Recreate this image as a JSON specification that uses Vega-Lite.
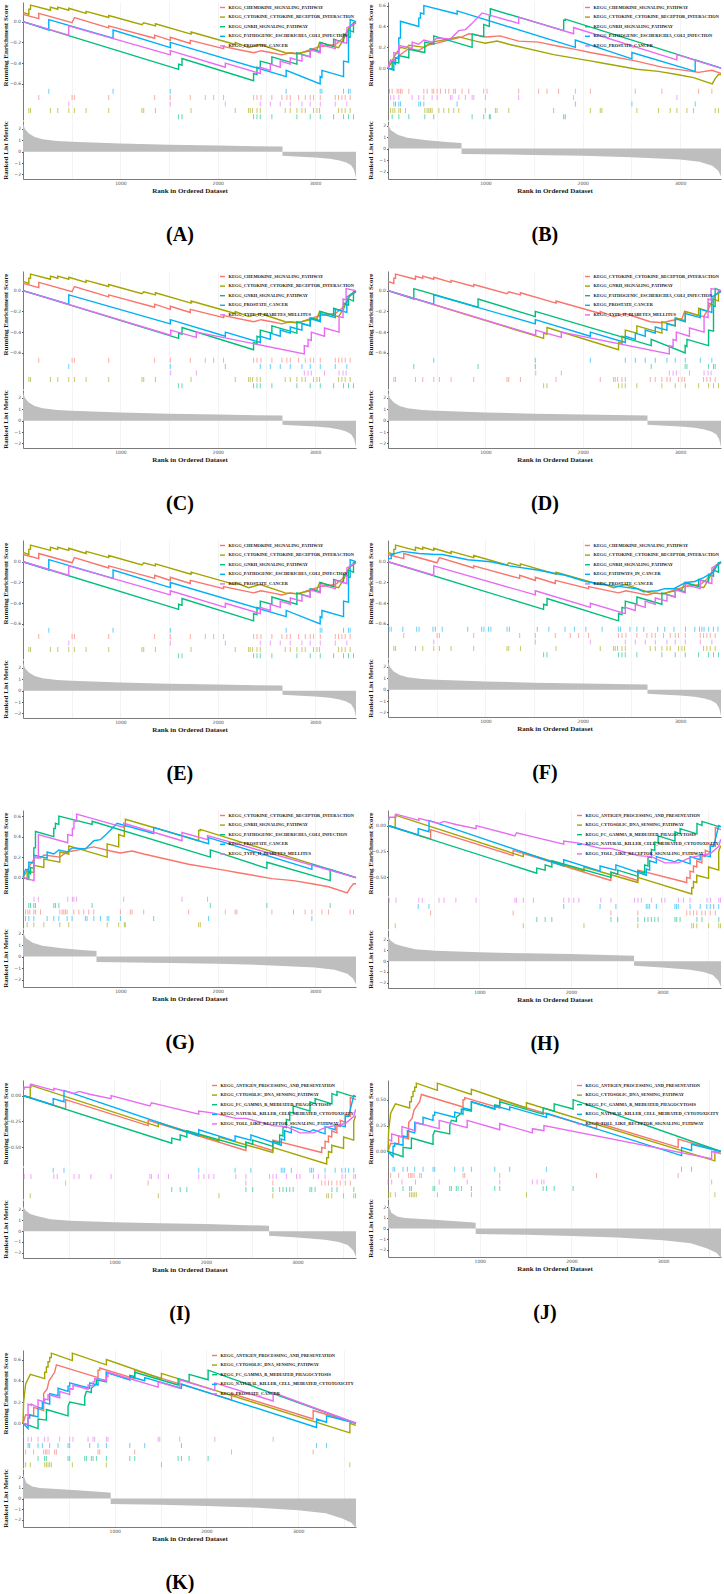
{
"$schema":"https://vega.github.io/schema/vega-lite/v6.json",
"padding":{"left":0,"top":2,"right":0,"bottom":0},
"columns":2,
"spacing":{"row":26,"column":6},
"resolve":{"scale":{"color":"independent"},"legend":{"color":"independent"}},
"config":{
 "view":{"stroke":null},
 "range":{"category":["#F8766D","#A3A500","#00BF7D","#00B0F6","#E76BF3"]},
 "axis":{"grid":false,"labelFont":"DejaVu Sans","labelFontSize":4.5,"labelColor":"#4d4d4d","titleFont":"Liberation Serif","titleFontSize":7,"titleFontWeight":"bold","titleColor":"#1a1a1a","domainColor":"#595959","domainWidth":0.8,"tickColor":"#595959","tickSize":1.5,"labelPadding":1,"gridColor":"#ebebeb","gridWidth":0.6},
 "axisY":{"minExtent":13,"maxExtent":13,"titlePadding":2},
 "axisX":{"titlePadding":1.5,"labelPadding":1.5},
 "legend":{"orient":"top-right","offset":2,"padding":0,"labelFont":"Liberation Serif","labelFontWeight":"bold","labelFontSize":4.4,"labelColor":"#1a1a1a","labelLimit":400,"symbolType":"stroke","symbolSize":25,"symbolStrokeWidth":1.5,"rowPadding":2.6,"labelOffset":2.5},
 "title":{"font":"Liberation Serif","fontSize":20,"fontWeight":"bold","orient":"bottom","offset":31,"color":"#000","anchor":"middle"},
 "line":{"strokeWidth":1.4},
 "tick":{"thickness":1,"opacity":0.6},
 "area":{"color":"#bebebe"}
},
"datasets":{
"nm":[
{"s":"1a","n":"KEGG_CHEMOKINE_SIGNALING_PATHWAY"},{"s":"1b","n":"KEGG_CYTOKINE_CYTOKINE_RECEPTOR_INTERACTION"},{"s":"1c","n":"KEGG_GNRH_SIGNALING_PATHWAY"},{"s":"1d","n":"KEGG_PATHOGENIC_ESCHERICHIA_COLI_INFECTION"},{"s":"1e","n":"KEGG_PROSTATE_CANCER"},{"s":"1f","n":"KEGG_TYPE_II_DIABETES_MELLITUS"},{"s":"1g","n":"KEGG_PATHWAYS_IN_CANCER"},
{"s":"2a","n":"KEGG_CHEMOKINE_SIGNALING_PATHWAY"},{"s":"2b","n":"KEGG_CYTOKINE_CYTOKINE_RECEPTOR_INTERACTION"},{"s":"2c","n":"KEGG_GNRH_SIGNALING_PATHWAY"},{"s":"2d","n":"KEGG_PATHOGENIC_ESCHERICHIA_COLI_INFECTION"},{"s":"2e","n":"KEGG_PROSTATE_CANCER"},{"s":"2f","n":"KEGG_TYPE_II_DIABETES_MELLITUS"},
{"s":"3a","n":"KEGG_ANTIGEN_PROCESSING_AND_PRESENTATION"},{"s":"3b","n":"KEGG_CYTOSOLIC_DNA_SENSING_PATHWAY"},{"s":"3c","n":"KEGG_FC_GAMMA_R_MEDIATED_PHAGOCYTOSIS"},{"s":"3d","n":"KEGG_NATURAL_KILLER_CELL_MEDIATED_CYTOTOXICITY"},{"s":"3e","n":"KEGG_TOLL_LIKE_RECEPTOR_SIGNALING_PATHWAY"},
{"s":"4a","n":"KEGG_ANTIGEN_PROCESSING_AND_PRESENTATION"},{"s":"4b","n":"KEGG_CYTOSOLIC_DNA_SENSING_PATHWAY"},{"s":"4c","n":"KEGG_FC_GAMMA_R_MEDIATED_PHAGOCYTOSIS"},{"s":"4d","n":"KEGG_NATURAL_KILLER_CELL_MEDIATED_CYTOTOXICITY"},{"s":"4e","n":"KEGG_TOLL_LIKE_RECEPTOR_SIGNALING_PATHWAY"},{"s":"4f","n":"KEGG_PROSTATE_CANCER"}
],
"es":[
{"s":"1a","x":0,"y":0.07},{"s":"1a","x":162,"y":0.03},{"s":"1a","x":162,"y":0.08},{"s":"1a","x":504,"y":-0.01},{"s":"1a","x":528,"y":0.04},{"s":"1a","x":880,"y":-0.06},{"s":"1a","x":880,"y":-0.04},{"s":"1a","x":1352,"y":-0.16},{"s":"1a","x":1352,"y":-0.13},{"s":"1a","x":1513,"y":-0.18},{"s":"1a","x":1513,"y":-0.15},{"s":"1a","x":1718,"y":-0.21},{"s":"1a","x":1718,"y":-0.18},{"s":"1a","x":2060,"y":-0.26},{"s":"1a","x":2060,"y":-0.24},{"s":"1a","x":2368,"y":-0.3},{"s":"1a","x":2444,"y":-0.28},{"s":"1a","x":2556,"y":-0.3},{"s":"1a","x":2659,"y":-0.32},{"s":"1a","x":2745,"y":-0.3},{"s":"1a","x":2830,"y":-0.31},{"s":"1a","x":2950,"y":-0.27},{"s":"1a","x":3053,"y":-0.24},{"s":"1a","x":3207,"y":-0.22},{"s":"1a","x":3275,"y":-0.17},{"s":"1a","x":3360,"y":-0.05},{"s":"1a","x":3420,"y":-0.01},
{"s":"1b","x":0,"y":0.09},{"s":"1b","x":60,"y":0.07},{"s":"1b","x":60,"y":0.12},{"s":"1b","x":77,"y":0.12},{"s":"1b","x":77,"y":0.16},{"s":"1b","x":282,"y":0.11},{"s":"1b","x":282,"y":0.14},{"s":"1b","x":357,"y":0.12},{"s":"1b","x":357,"y":0.14},{"s":"1b","x":470,"y":0.11},{"s":"1b","x":470,"y":0.13},{"s":"1b","x":648,"y":0.08},{"s":"1b","x":648,"y":0.1},{"s":"1b","x":880,"y":0.04},{"s":"1b","x":880,"y":0.06},{"s":"1b","x":1222,"y":-0.03},{"s":"1b","x":1240,"y":-0.01},{"s":"1b","x":1360,"y":-0.04},{"s":"1b","x":1360,"y":-0.02},{"s":"1b","x":1726,"y":-0.12},{"s":"1b","x":1726,"y":-0.1},{"s":"1b","x":2180,"y":-0.22},{"s":"1b","x":2180,"y":-0.2},{"s":"1b","x":2317,"y":-0.25},{"s":"1b","x":2437,"y":-0.22},{"s":"1b","x":2693,"y":-0.3},{"s":"1b","x":2813,"y":-0.31},{"s":"1b","x":2899,"y":-0.29},{"s":"1b","x":3019,"y":-0.27},{"s":"1b","x":3046,"y":-0.2},{"s":"1b","x":3241,"y":-0.25},{"s":"1b","x":3275,"y":-0.2},{"s":"1b","x":3309,"y":-0.14},{"s":"1b","x":3360,"y":-0.04},{"s":"1b","x":3420,"y":0},
{"s":"1c","x":0,"y":0},{"s":"1c","x":1598,"y":-0.46},{"s":"1c","x":1598,"y":-0.41},{"s":"1c","x":1633,"y":-0.42},{"s":"1c","x":1633,"y":-0.355},{"s":"1c","x":2368,"y":-0.57},{"s":"1c","x":2368,"y":-0.5},{"s":"1c","x":2403,"y":-0.51},{"s":"1c","x":2403,"y":-0.44},{"s":"1c","x":2437,"y":-0.45},{"s":"1c","x":2437,"y":-0.38},{"s":"1c","x":2556,"y":-0.41},{"s":"1c","x":2556,"y":-0.34},{"s":"1c","x":2813,"y":-0.41},{"s":"1c","x":2813,"y":-0.3},{"s":"1c","x":2950,"y":-0.34},{"s":"1c","x":2950,"y":-0.26},{"s":"1c","x":3053,"y":-0.29},{"s":"1c","x":3053,"y":-0.2},{"s":"1c","x":3190,"y":-0.24},{"s":"1c","x":3190,"y":-0.17},{"s":"1c","x":3292,"y":-0.2},{"s":"1c","x":3292,"y":-0.12},{"s":"1c","x":3343,"y":-0.14},{"s":"1c","x":3343,"y":-0.08},{"s":"1c","x":3394,"y":-0.1},{"s":"1c","x":3394,"y":-0.01},{"s":"1c","x":3420,"y":-0.01},
{"s":"1d","x":0,"y":0},{"s":"1d","x":265,"y":-0.08},{"s":"1d","x":265,"y":0.02},{"s":"1d","x":925,"y":-0.16},{"s":"1d","x":925,"y":-0.08},{"s":"1d","x":1513,"y":-0.25},{"s":"1d","x":1513,"y":-0.2},{"s":"1d","x":2703,"y":-0.53},{"s":"1d","x":2703,"y":-0.47},{"s":"1d","x":3052,"y":-0.6},{"s":"1d","x":3052,"y":-0.53},{"s":"1d","x":3070,"y":-0.54},{"s":"1d","x":3070,"y":-0.47},{"s":"1d","x":3292,"y":-0.53},{"s":"1d","x":3292,"y":-0.38},{"s":"1d","x":3343,"y":-0.39},{"s":"1d","x":3343,"y":-0.15},{"s":"1d","x":3360,"y":-0.15},{"s":"1d","x":3360,"y":0.02},{"s":"1d","x":3420,"y":0},
{"s":"1e","x":0,"y":0},{"s":"1e","x":470,"y":-0.13},{"s":"1e","x":470,"y":-0.04},{"s":"1e","x":1513,"y":-0.32},{"s":"1e","x":1513,"y":-0.28},{"s":"1e","x":2078,"y":-0.44},{"s":"1e","x":2078,"y":-0.4},{"s":"1e","x":2437,"y":-0.5},{"s":"1e","x":2437,"y":-0.44},{"s":"1e","x":2540,"y":-0.47},{"s":"1e","x":2540,"y":-0.41},{"s":"1e","x":2642,"y":-0.44},{"s":"1e","x":2642,"y":-0.38},{"s":"1e","x":2745,"y":-0.41},{"s":"1e","x":2745,"y":-0.35},{"s":"1e","x":2865,"y":-0.38},{"s":"1e","x":2865,"y":-0.32},{"s":"1e","x":2950,"y":-0.34},{"s":"1e","x":2950,"y":-0.27},{"s":"1e","x":3053,"y":-0.3},{"s":"1e","x":3053,"y":-0.22},{"s":"1e","x":3207,"y":-0.26},{"s":"1e","x":3207,"y":-0.18},{"s":"1e","x":3326,"y":-0.21},{"s":"1e","x":3326,"y":-0.06},{"s":"1e","x":3420,"y":-0.01},
{"s":"1f","x":0,"y":0},{"s":"1f","x":1517,"y":-0.43},{"s":"1f","x":1517,"y":-0.38},{"s":"1f","x":1780,"y":-0.45},{"s":"1f","x":1780,"y":-0.4},{"s":"1f","x":2889,"y":-0.61},{"s":"1f","x":2889,"y":-0.53},{"s":"1f","x":2928,"y":-0.54},{"s":"1f","x":2928,"y":-0.47},{"s":"1f","x":2961,"y":-0.48},{"s":"1f","x":2961,"y":-0.4},{"s":"1f","x":3096,"y":-0.44},{"s":"1f","x":3096,"y":-0.36},{"s":"1f","x":3246,"y":-0.4},{"s":"1f","x":3246,"y":-0.25},{"s":"1f","x":3287,"y":-0.26},{"s":"1f","x":3287,"y":-0.08},{"s":"1f","x":3318,"y":-0.09},{"s":"1f","x":3318,"y":0.02},{"s":"1f","x":3420,"y":0},
{"s":"1g","x":0,"y":0.03},{"s":"1g","x":33,"y":0.03},{"s":"1g","x":33,"y":0.07},{"s":"1g","x":152,"y":0.1},{"s":"1g","x":319,"y":0.08},{"s":"1g","x":486,"y":0.07},{"s":"1g","x":557,"y":0.07},{"s":"1g","x":819,"y":0.02},{"s":"1g","x":1057,"y":0},{"s":"1g","x":1247,"y":-0.04},{"s":"1g","x":1533,"y":-0.08},{"s":"1g","x":1818,"y":-0.13},{"s":"1g","x":2032,"y":-0.19},{"s":"1g","x":2199,"y":-0.22},{"s":"1g","x":2389,"y":-0.24},{"s":"1g","x":2556,"y":-0.26},{"s":"1g","x":2627,"y":-0.29},{"s":"1g","x":2770,"y":-0.28},{"s":"1g","x":2842,"y":-0.26},{"s":"1g","x":2937,"y":-0.26},{"s":"1g","x":3056,"y":-0.2},{"s":"1g","x":3151,"y":-0.19},{"s":"1g","x":3246,"y":-0.15},{"s":"1g","x":3342,"y":-0.1},{"s":"1g","x":3389,"y":-0.02},{"s":"1g","x":3420,"y":0},
{"s":"2a","x":0,"y":0},{"s":"2a","x":15,"y":0.03},{"s":"2a","x":43,"y":0.06},{"s":"2a","x":111,"y":0.12},{"s":"2a","x":214,"y":0.19},{"s":"2a","x":316,"y":0.17},{"s":"2a","x":402,"y":0.22},{"s":"2a","x":504,"y":0.24},{"s":"2a","x":624,"y":0.27},{"s":"2a","x":761,"y":0.3},{"s":"2a","x":830,"y":0.33},{"s":"2a","x":1017,"y":0.3},{"s":"2a","x":1150,"y":0.31},{"s":"2a","x":1342,"y":0.26},{"s":"2a","x":1547,"y":0.25},{"s":"2a","x":1752,"y":0.21},{"s":"2a","x":1924,"y":0.18},{"s":"2a","x":2078,"y":0.15},{"s":"2a","x":2540,"y":0.07},{"s":"2a","x":2813,"y":0.01},{"s":"2a","x":3190,"y":-0.04},{"s":"2a","x":3326,"y":-0.02},{"s":"2a","x":3420,"y":-0.05},
{"s":"2b","x":0,"y":0},{"s":"2b","x":26,"y":0.04},{"s":"2b","x":70,"y":0.12},{"s":"2b","x":128,"y":0.2},{"s":"2b","x":180,"y":0.19},{"s":"2b","x":216,"y":0.22},{"s":"2b","x":378,"y":0.2},{"s":"2b","x":453,"y":0.25},{"s":"2b","x":624,"y":0.28},{"s":"2b","x":727,"y":0.3},{"s":"2b","x":900,"y":0.26},{"s":"2b","x":1000,"y":0.24},{"s":"2b","x":1120,"y":0.26},{"s":"2b","x":1240,"y":0.23},{"s":"2b","x":1701,"y":0.13},{"s":"2b","x":2078,"y":0.07},{"s":"2b","x":2197,"y":0.05},{"s":"2b","x":2556,"y":-0.01},{"s":"2b","x":2778,"y":-0.03},{"s":"2b","x":2967,"y":-0.06},{"s":"2b","x":3138,"y":-0.09},{"s":"2b","x":3330,"y":-0.15},{"s":"2b","x":3360,"y":-0.1},{"s":"2b","x":3394,"y":-0.06},{"s":"2b","x":3420,"y":-0.06},
{"s":"2c","x":0,"y":0},{"s":"2c","x":43,"y":-0.01},{"s":"2c","x":43,"y":0.06},{"s":"2c","x":111,"y":0.05},{"s":"2c","x":111,"y":0.12},{"s":"2c","x":214,"y":0.1},{"s":"2c","x":214,"y":0.18},{"s":"2c","x":378,"y":0.15},{"s":"2c","x":378,"y":0.25},{"s":"2c","x":470,"y":0.23},{"s":"2c","x":470,"y":0.31},{"s":"2c","x":864,"y":0.2},{"s":"2c","x":864,"y":0.33},{"s":"2c","x":983,"y":0.3},{"s":"2c","x":983,"y":0.42},{"s":"2c","x":1041,"y":0.4},{"s":"2c","x":1041,"y":0.5},{"s":"2c","x":1051,"y":0.5},{"s":"2c","x":1051,"y":0.57},{"s":"2c","x":1804,"y":0.36},{"s":"2c","x":1804,"y":0.46},{"s":"2c","x":1821,"y":0.46},{"s":"2c","x":1821,"y":0.47},{"s":"2c","x":3420,"y":0},
{"s":"2d","x":0,"y":0},{"s":"2d","x":60,"y":-0.02},{"s":"2d","x":60,"y":0.06},{"s":"2d","x":77,"y":0.04},{"s":"2d","x":77,"y":0.1},{"s":"2d","x":111,"y":0.09},{"s":"2d","x":111,"y":0.29},{"s":"2d","x":128,"y":0.29},{"s":"2d","x":128,"y":0.45},{"s":"2d","x":316,"y":0.4},{"s":"2d","x":316,"y":0.48},{"s":"2d","x":333,"y":0.48},{"s":"2d","x":333,"y":0.53},{"s":"2d","x":368,"y":0.52},{"s":"2d","x":368,"y":0.6},{"s":"2d","x":710,"y":0.52},{"s":"2d","x":710,"y":0.55},{"s":"2d","x":1924,"y":0.2},{"s":"2d","x":1924,"y":0.27},{"s":"2d","x":2505,"y":0.09},{"s":"2d","x":2505,"y":0.15},{"s":"2d","x":3155,"y":-0.03},{"s":"2d","x":3155,"y":0.08},{"s":"2d","x":3420,"y":0},
{"s":"2e","x":0,"y":0},{"s":"2e","x":26,"y":0.08},{"s":"2e","x":60,"y":0.07},{"s":"2e","x":60,"y":0.15},{"s":"2e","x":111,"y":0.14},{"s":"2e","x":111,"y":0.22},{"s":"2e","x":248,"y":0.19},{"s":"2e","x":248,"y":0.25},{"s":"2e","x":316,"y":0.23},{"s":"2e","x":368,"y":0.27},{"s":"2e","x":453,"y":0.25},{"s":"2e","x":504,"y":0.29},{"s":"2e","x":641,"y":0.28},{"s":"2e","x":727,"y":0.36},{"s":"2e","x":795,"y":0.37},{"s":"2e","x":864,"y":0.43},{"s":"2e","x":966,"y":0.53},{"s":"2e","x":1342,"y":0.43},{"s":"2e","x":1342,"y":0.49},{"s":"2e","x":1906,"y":0.33},{"s":"2e","x":1906,"y":0.39},{"s":"2e","x":2967,"y":0.08},{"s":"2e","x":2967,"y":0.13},{"s":"2e","x":3420,"y":0},
{"s":"2f","x":0,"y":0},{"s":"2f","x":113,"y":-0.03},{"s":"2f","x":113,"y":0.2},{"s":"2f","x":158,"y":0.19},{"s":"2f","x":158,"y":0.42},{"s":"2f","x":459,"y":0.34},{"s":"2f","x":459,"y":0.42},{"s":"2f","x":507,"y":0.41},{"s":"2f","x":507,"y":0.48},{"s":"2f","x":523,"y":0.48},{"s":"2f","x":523,"y":0.55},{"s":"2f","x":551,"y":0.55},{"s":"2f","x":551,"y":0.62},{"s":"2f","x":1034,"y":0.49},{"s":"2f","x":1034,"y":0.53},{"s":"2f","x":1633,"y":0.36},{"s":"2f","x":1633,"y":0.44},{"s":"2f","x":1895,"y":0.37},{"s":"2f","x":1895,"y":0.41},{"s":"2f","x":3420,"y":0},
{"s":"3a","x":0,"y":0},{"s":"3a","x":466,"y":-0.13},{"s":"3a","x":466,"y":-0.04},{"s":"3a","x":1368,"y":-0.29},{"s":"3a","x":1368,"y":-0.24},{"s":"3a","x":2436,"y":-0.53},{"s":"3a","x":2436,"y":-0.45},{"s":"3a","x":2731,"y":-0.53},{"s":"3a","x":2731,"y":-0.43},{"s":"3a","x":3265,"y":-0.55},{"s":"3a","x":3265,"y":-0.5},{"s":"3a","x":3302,"y":-0.51},{"s":"3a","x":3302,"y":-0.44},{"s":"3a","x":3339,"y":-0.45},{"s":"3a","x":3339,"y":-0.39},{"s":"3a","x":3375,"y":-0.4},{"s":"3a","x":3375,"y":-0.34},{"s":"3a","x":3431,"y":-0.36},{"s":"3a","x":3431,"y":-0.29},{"s":"3a","x":3468,"y":-0.3},{"s":"3a","x":3468,"y":-0.24},{"s":"3a","x":3523,"y":-0.26},{"s":"3a","x":3523,"y":-0.18},{"s":"3a","x":3578,"y":-0.2},{"s":"3a","x":3578,"y":-0.02},{"s":"3a","x":3640,"y":-0.04},
{"s":"3b","x":0,"y":0},{"s":"3b","x":79,"y":-0.02},{"s":"3b","x":79,"y":0.1},{"s":"3b","x":1479,"y":-0.3},{"s":"3b","x":1479,"y":-0.26},{"s":"3b","x":2142,"y":-0.44},{"s":"3b","x":2142,"y":-0.4},{"s":"3b","x":2731,"y":-0.55},{"s":"3b","x":2731,"y":-0.5},{"s":"3b","x":3320,"y":-0.66},{"s":"3b","x":3320,"y":-0.6},{"s":"3b","x":3339,"y":-0.6},{"s":"3b","x":3339,"y":-0.54},{"s":"3b","x":3375,"y":-0.55},{"s":"3b","x":3375,"y":-0.48},{"s":"3b","x":3504,"y":-0.51},{"s":"3b","x":3504,"y":-0.4},{"s":"3b","x":3615,"y":-0.43},{"s":"3b","x":3615,"y":-0.25},{"s":"3b","x":3634,"y":-0.2},{"s":"3b","x":3640,"y":-0.2},
{"s":"3c","x":0,"y":0},{"s":"3c","x":1626,"y":-0.46},{"s":"3c","x":1626,"y":-0.41},{"s":"3c","x":1718,"y":-0.43},{"s":"3c","x":1718,"y":-0.38},{"s":"3c","x":1791,"y":-0.4},{"s":"3c","x":1791,"y":-0.34},{"s":"3c","x":2437,"y":-0.5},{"s":"3c","x":2437,"y":-0.45},{"s":"3c","x":2511,"y":-0.47},{"s":"3c","x":2511,"y":-0.43},{"s":"3c","x":2732,"y":-0.49},{"s":"3c","x":2732,"y":-0.44},{"s":"3c","x":2805,"y":-0.46},{"s":"3c","x":2805,"y":-0.38},{"s":"3c","x":2842,"y":-0.39},{"s":"3c","x":2842,"y":-0.3},{"s":"3c","x":2879,"y":-0.31},{"s":"3c","x":2879,"y":-0.23},{"s":"3c","x":2916,"y":-0.24},{"s":"3c","x":2916,"y":-0.16},{"s":"3c","x":2953,"y":-0.17},{"s":"3c","x":2953,"y":-0.1},{"s":"3c","x":3137,"y":-0.15},{"s":"3c","x":3137,"y":-0.06},{"s":"3c","x":3193,"y":-0.08},{"s":"3c","x":3193,"y":-0.03},{"s":"3c","x":3377,"y":-0.08},{"s":"3c","x":3377,"y":0.02},{"s":"3c","x":3432,"y":0},{"s":"3c","x":3432,"y":0.04},{"s":"3c","x":3616,"y":-0.01},{"s":"3c","x":3640,"y":-0.01},
{"s":"3d","x":0,"y":0},{"s":"3d","x":330,"y":-0.09},{"s":"3d","x":330,"y":-0.03},{"s":"3d","x":448,"y":-0.06},{"s":"3d","x":448,"y":0.05},{"s":"3d","x":1921,"y":-0.39},{"s":"3d","x":1921,"y":-0.33},{"s":"3d","x":2318,"y":-0.44},{"s":"3d","x":2318,"y":-0.39},{"s":"3d","x":2491,"y":-0.43},{"s":"3d","x":2491,"y":-0.38},{"s":"3d","x":2823,"y":-0.48},{"s":"3d","x":2823,"y":-0.42},{"s":"3d","x":2860,"y":-0.43},{"s":"3d","x":2860,"y":-0.34},{"s":"3d","x":2933,"y":-0.36},{"s":"3d","x":2933,"y":-0.3},{"s":"3d","x":3136,"y":-0.35},{"s":"3d","x":3173,"y":-0.33},{"s":"3d","x":3302,"y":-0.37},{"s":"3d","x":3302,"y":-0.3},{"s":"3d","x":3412,"y":-0.33},{"s":"3d","x":3412,"y":-0.28},{"s":"3d","x":3523,"y":-0.3},{"s":"3d","x":3523,"y":-0.2},{"s":"3d","x":3560,"y":-0.2},{"s":"3d","x":3615,"y":0},{"s":"3d","x":3640,"y":-0.01},
{"s":"3e","x":0,"y":0.06},{"s":"3e","x":13,"y":0.06},{"s":"3e","x":13,"y":0.08},{"s":"3e","x":87,"y":0.08},{"s":"3e","x":87,"y":0.11},{"s":"3e","x":337,"y":0.05},{"s":"3e","x":337,"y":0.07},{"s":"3e","x":558,"y":0.02},{"s":"3e","x":613,"y":0.04},{"s":"3e","x":742,"y":0.01},{"s":"3e","x":963,"y":-0.03},{"s":"3e","x":963,"y":0},{"s":"3e","x":1387,"y":-0.1},{"s":"3e","x":1405,"y":-0.07},{"s":"3e","x":1590,"y":-0.11},{"s":"3e","x":1921,"y":-0.18},{"s":"3e","x":1921,"y":-0.15},{"s":"3e","x":2086,"y":-0.17},{"s":"3e","x":2326,"y":-0.22},{"s":"3e","x":2437,"y":-0.22},{"s":"3e","x":2732,"y":-0.29},{"s":"3e","x":2879,"y":-0.3},{"s":"3e","x":3027,"y":-0.36},{"s":"3e","x":3174,"y":-0.36},{"s":"3e","x":3302,"y":-0.31},{"s":"3e","x":3524,"y":-0.27},{"s":"3e","x":3616,"y":-0.2},{"s":"3e","x":3634,"y":-0.14},{"s":"3e","x":3640,"y":-0.14},
{"s":"4a","x":0,"y":0},{"s":"4a","x":29,"y":0.08},{"s":"4a","x":116,"y":0.07},{"s":"4a","x":116,"y":0.15},{"s":"4a","x":225,"y":0.12},{"s":"4a","x":225,"y":0.28},{"s":"4a","x":262,"y":0.32},{"s":"4a","x":284,"y":0.4},{"s":"4a","x":345,"y":0.48},{"s":"4a","x":364,"y":0.55},{"s":"4a","x":818,"y":0.43},{"s":"4a","x":818,"y":0.5},{"s":"4a","x":836,"y":0.5},{"s":"4a","x":836,"y":0.52},{"s":"4a","x":1218,"y":0.42},{"s":"4a","x":1218,"y":0.5},{"s":"4a","x":2273,"y":0.22},{"s":"4a","x":2273,"y":0.28},{"s":"4a","x":3163,"y":0.04},{"s":"4a","x":3163,"y":0.12},{"s":"4a","x":3630,"y":0},
{"s":"4b","x":0,"y":0},{"s":"4b","x":7,"y":0.2},{"s":"4b","x":29,"y":0.37},{"s":"4b","x":80,"y":0.46},{"s":"4b","x":236,"y":0.42},{"s":"4b","x":236,"y":0.48},{"s":"4b","x":255,"y":0.48},{"s":"4b","x":255,"y":0.53},{"s":"4b","x":273,"y":0.53},{"s":"4b","x":273,"y":0.58},{"s":"4b","x":291,"y":0.58},{"s":"4b","x":291,"y":0.62},{"s":"4b","x":309,"y":0.62},{"s":"4b","x":309,"y":0.66},{"s":"4b","x":538,"y":0.59},{"s":"4b","x":538,"y":0.66},{"s":"4b","x":909,"y":0.55},{"s":"4b","x":909,"y":0.6},{"s":"4b","x":1509,"y":0.42},{"s":"4b","x":1509,"y":0.47},{"s":"4b","x":3563,"y":-0.09},{"s":"4b","x":3563,"y":0},{"s":"4b","x":3630,"y":-0.02},
{"s":"4c","x":0,"y":0},{"s":"4c","x":164,"y":-0.05},{"s":"4c","x":164,"y":0.04},{"s":"4c","x":255,"y":0.03},{"s":"4c","x":255,"y":0.13},{"s":"4c","x":491,"y":0.07},{"s":"4c","x":491,"y":0.16},{"s":"4c","x":509,"y":0.2},{"s":"4c","x":673,"y":0.17},{"s":"4c","x":673,"y":0.25},{"s":"4c","x":691,"y":0.3},{"s":"4c","x":745,"y":0.29},{"s":"4c","x":745,"y":0.33},{"s":"4c","x":800,"y":0.37},{"s":"4c","x":800,"y":0.41},{"s":"4c","x":909,"y":0.39},{"s":"4c","x":909,"y":0.48},{"s":"4c","x":1164,"y":0.41},{"s":"4c","x":1164,"y":0.45},{"s":"4c","x":1218,"y":0.44},{"s":"4c","x":1218,"y":0.48},{"s":"4c","x":1691,"y":0.36},{"s":"4c","x":1691,"y":0.42},{"s":"4c","x":1811,"y":0.39},{"s":"4c","x":1811,"y":0.46},{"s":"4c","x":2018,"y":0.41},{"s":"4c","x":2018,"y":0.5},{"s":"4c","x":3630,"y":0},
{"s":"4d","x":0,"y":0},{"s":"4d","x":55,"y":-0.05},{"s":"4d","x":55,"y":0.05},{"s":"4d","x":73,"y":0.05},{"s":"4d","x":73,"y":0.08},{"s":"4d","x":164,"y":0.06},{"s":"4d","x":164,"y":0.15},{"s":"4d","x":211,"y":0.14},{"s":"4d","x":211,"y":0.2},{"s":"4d","x":291,"y":0.18},{"s":"4d","x":291,"y":0.28},{"s":"4d","x":382,"y":0.26},{"s":"4d","x":382,"y":0.33},{"s":"4d","x":491,"y":0.3},{"s":"4d","x":491,"y":0.35},{"s":"4d","x":509,"y":0.35},{"s":"4d","x":509,"y":0.38},{"s":"4d","x":727,"y":0.33},{"s":"4d","x":727,"y":0.38},{"s":"4d","x":818,"y":0.36},{"s":"4d","x":818,"y":0.42},{"s":"4d","x":909,"y":0.4},{"s":"4d","x":909,"y":0.48},{"s":"4d","x":1164,"y":0.41},{"s":"4d","x":1164,"y":0.44},{"s":"4d","x":1327,"y":0.4},{"s":"4d","x":1327,"y":0.43},{"s":"4d","x":1727,"y":0.33},{"s":"4d","x":1727,"y":0.37},{"s":"4d","x":3200,"y":-0.04},{"s":"4d","x":3200,"y":0.04},{"s":"4d","x":3309,"y":0.01},{"s":"4d","x":3309,"y":0.07},{"s":"4d","x":3630,"y":0},
{"s":"4e","x":0,"y":0.12},{"s":"4e","x":40,"y":0.1},{"s":"4e","x":40,"y":0.17},{"s":"4e","x":152,"y":0.14},{"s":"4e","x":152,"y":0.24},{"s":"4e","x":300,"y":0.2},{"s":"4e","x":300,"y":0.28},{"s":"4e","x":558,"y":0.22},{"s":"4e","x":558,"y":0.3},{"s":"4e","x":863,"y":0.23},{"s":"4e","x":863,"y":0.3},{"s":"4e","x":1218,"y":0.21},{"s":"4e","x":1218,"y":0.27},{"s":"4e","x":1574,"y":0.18},{"s":"4e","x":1574,"y":0.22},{"s":"4e","x":1700,"y":0.2},{"s":"4e","x":1700,"y":0.25},{"s":"4e","x":3528,"y":-0.07},{"s":"4e","x":3528,"y":0},{"s":"4e","x":3630,"y":-0.02},
{"s":"4f","x":0,"y":0},{"s":"4f","x":55,"y":-0.01},{"s":"4f","x":55,"y":0.18},{"s":"4f","x":91,"y":0.17},{"s":"4f","x":91,"y":0.18},{"s":"4f","x":164,"y":0.15},{"s":"4f","x":164,"y":0.22},{"s":"4f","x":236,"y":0.2},{"s":"4f","x":236,"y":0.23},{"s":"4f","x":273,"y":0.22},{"s":"4f","x":273,"y":0.27},{"s":"4f","x":400,"y":0.24},{"s":"4f","x":400,"y":0.3},{"s":"4f","x":509,"y":0.27},{"s":"4f","x":509,"y":0.33},{"s":"4f","x":545,"y":0.32},{"s":"4f","x":545,"y":0.36},{"s":"4f","x":709,"y":0.32},{"s":"4f","x":709,"y":0.36},{"s":"4f","x":764,"y":0.35},{"s":"4f","x":764,"y":0.39},{"s":"4f","x":782,"y":0.39},{"s":"4f","x":782,"y":0.42},{"s":"4f","x":909,"y":0.4},{"s":"4f","x":909,"y":0.44},{"s":"4f","x":927,"y":0.44},{"s":"4f","x":927,"y":0.48},{"s":"4f","x":1473,"y":0.34},{"s":"4f","x":1473,"y":0.39},{"s":"4f","x":1709,"y":0.33},{"s":"4f","x":1709,"y":0.41},{"s":"4f","x":2091,"y":0.31},{"s":"4f","x":2091,"y":0.38},{"s":"4f","x":2727,"y":0.21},{"s":"4f","x":2727,"y":0.29},{"s":"4f","x":3630,"y":0}
],
"hit":[
{"s":"1a","x":162},{"s":"1a","x":504},{"s":"1a","x":528},{"s":"1a","x":880},{"s":"1a","x":1352},{"s":"1a","x":1513},{"s":"1a","x":1718},{"s":"1a","x":1872},{"s":"1a","x":1958},{"s":"1a","x":2060},{"s":"1a","x":2368},{"s":"1a","x":2403},{"s":"1a","x":2444},{"s":"1a","x":2556},{"s":"1a","x":2659},{"s":"1a","x":2710},{"s":"1a","x":2745},{"s":"1a","x":2830},{"s":"1a","x":2899},{"s":"1a","x":2950},{"s":"1a","x":2984},{"s":"1a","x":3053},{"s":"1a","x":3207},{"s":"1a","x":3241},{"s":"1a","x":3275},{"s":"1a","x":3309},{"s":"1a","x":3360},
{"s":"1b","x":60},{"s":"1b","x":77},{"s":"1b","x":282},{"s":"1b","x":357},{"s":"1b","x":470},{"s":"1b","x":528},{"s":"1b","x":648},{"s":"1b","x":880},{"s":"1b","x":1222},{"s":"1b","x":1240},{"s":"1b","x":1360},{"s":"1b","x":1726},{"s":"1b","x":2180},{"s":"1b","x":2317},{"s":"1b","x":2334},{"s":"1b","x":2358},{"s":"1b","x":2403},{"s":"1b","x":2437},{"s":"1b","x":2693},{"s":"1b","x":2745},{"s":"1b","x":2813},{"s":"1b","x":2865},{"s":"1b","x":2899},{"s":"1b","x":2984},{"s":"1b","x":3019},{"s":"1b","x":3046},{"s":"1b","x":3241},{"s":"1b","x":3275},{"s":"1b","x":3309},{"s":"1b","x":3360},
{"s":"1c","x":1598},{"s":"1c","x":1633},{"s":"1c","x":2368},{"s":"1c","x":2403},{"s":"1c","x":2437},{"s":"1c","x":2556},{"s":"1c","x":2813},{"s":"1c","x":2950},{"s":"1c","x":3053},{"s":"1c","x":3190},{"s":"1c","x":3292},{"s":"1c","x":3343},{"s":"1c","x":3394},
{"s":"1d","x":265},{"s":"1d","x":925},{"s":"1d","x":1513},{"s":"1d","x":2703},{"s":"1d","x":3052},{"s":"1d","x":3070},{"s":"1d","x":3292},{"s":"1d","x":3343},{"s":"1d","x":3360},
{"s":"1e","x":470},{"s":"1e","x":1513},{"s":"1e","x":2078},{"s":"1e","x":2437},{"s":"1e","x":2540},{"s":"1e","x":2642},{"s":"1e","x":2745},{"s":"1e","x":2865},{"s":"1e","x":2950},{"s":"1e","x":3053},{"s":"1e","x":3207},{"s":"1e","x":3326},
{"s":"1f","x":1517},{"s":"1f","x":1780},{"s":"1f","x":2889},{"s":"1f","x":2928},{"s":"1f","x":2961},{"s":"1f","x":3096},{"s":"1f","x":3246},{"s":"1f","x":3287},{"s":"1f","x":3318},
{"s":"1g","x":10},{"s":"1g","x":33},{"s":"1g","x":152},{"s":"1g","x":295},{"s":"1g","x":319},{"s":"1g","x":462},{"s":"1g","x":486},{"s":"1g","x":557},{"s":"1g","x":819},{"s":"1g","x":962},{"s":"1g","x":985},{"s":"1g","x":1033},{"s":"1g","x":1057},{"s":"1g","x":1223},{"s":"1g","x":1247},{"s":"1g","x":1533},{"s":"1g","x":1652},{"s":"1g","x":1818},{"s":"1g","x":1914},{"s":"1g","x":2032},{"s":"1g","x":2199},{"s":"1g","x":2366},{"s":"1g","x":2389},{"s":"1g","x":2485},{"s":"1g","x":2556},{"s":"1g","x":2627},{"s":"1g","x":2770},{"s":"1g","x":2842},{"s":"1g","x":2937},{"s":"1g","x":3056},{"s":"1g","x":3151},{"s":"1g","x":3199},{"s":"1g","x":3223},{"s":"1g","x":3246},{"s":"1g","x":3294},{"s":"1g","x":3342},{"s":"1g","x":3389},
{"s":"2a","x":15},{"s":"2a","x":43},{"s":"2a","x":94},{"s":"2a","x":111},{"s":"2a","x":128},{"s":"2a","x":145},{"s":"2a","x":214},{"s":"2a","x":368},{"s":"2a","x":402},{"s":"2a","x":453},{"s":"2a","x":470},{"s":"2a","x":504},{"s":"2a","x":539},{"s":"2a","x":590},{"s":"2a","x":624},{"s":"2a","x":675},{"s":"2a","x":692},{"s":"2a","x":761},{"s":"2a","x":830},{"s":"2a","x":983},{"s":"2a","x":1017},{"s":"2a","x":1342},{"s":"2a","x":1547},{"s":"2a","x":1633},{"s":"2a","x":1752},{"s":"2a","x":1924},{"s":"2a","x":2078},{"s":"2a","x":2540},{"s":"2a","x":2813},{"s":"2a","x":3190},{"s":"2a","x":3326},
{"s":"2b","x":26},{"s":"2b","x":50},{"s":"2b","x":70},{"s":"2b","x":111},{"s":"2b","x":128},{"s":"2b","x":180},{"s":"2b","x":378},{"s":"2b","x":402},{"s":"2b","x":419},{"s":"2b","x":436},{"s":"2b","x":453},{"s":"2b","x":522},{"s":"2b","x":573},{"s":"2b","x":624},{"s":"2b","x":675},{"s":"2b","x":727},{"s":"2b","x":1000},{"s":"2b","x":1103},{"s":"2b","x":1120},{"s":"2b","x":1240},{"s":"2b","x":1701},{"s":"2b","x":2078},{"s":"2b","x":2180},{"s":"2b","x":2197},{"s":"2b","x":2556},{"s":"2b","x":2778},{"s":"2b","x":2898},{"s":"2b","x":2967},{"s":"2b","x":3070},{"s":"2b","x":3138},{"s":"2b","x":3360},{"s":"2b","x":3394},
{"s":"2c","x":43},{"s":"2c","x":111},{"s":"2c","x":214},{"s":"2c","x":378},{"s":"2c","x":470},{"s":"2c","x":864},{"s":"2c","x":983},{"s":"2c","x":1041},{"s":"2c","x":1051},{"s":"2c","x":1804},{"s":"2c","x":1821},
{"s":"2d","x":60},{"s":"2d","x":77},{"s":"2d","x":111},{"s":"2d","x":128},{"s":"2d","x":316},{"s":"2d","x":333},{"s":"2d","x":368},{"s":"2d","x":710},{"s":"2d","x":1924},{"s":"2d","x":2505},{"s":"2d","x":3155},
{"s":"2e","x":26},{"s":"2e","x":60},{"s":"2e","x":111},{"s":"2e","x":248},{"s":"2e","x":316},{"s":"2e","x":368},{"s":"2e","x":453},{"s":"2e","x":504},{"s":"2e","x":641},{"s":"2e","x":658},{"s":"2e","x":727},{"s":"2e","x":795},{"s":"2e","x":864},{"s":"2e","x":881},{"s":"2e","x":1000},{"s":"2e","x":1342},{"s":"2e","x":1906},{"s":"2e","x":2967},
{"s":"2f","x":113},{"s":"2f","x":158},{"s":"2f","x":459},{"s":"2f","x":507},{"s":"2f","x":523},{"s":"2f","x":551},{"s":"2f","x":1034},{"s":"2f","x":1633},{"s":"2f","x":1895},
{"s":"3a","x":466},{"s":"3a","x":1368},{"s":"3a","x":2436},{"s":"3a","x":2731},{"s":"3a","x":3265},{"s":"3a","x":3302},{"s":"3a","x":3339},{"s":"3a","x":3375},{"s":"3a","x":3431},{"s":"3a","x":3468},{"s":"3a","x":3523},{"s":"3a","x":3578},
{"s":"3b","x":79},{"s":"3b","x":1479},{"s":"3b","x":2142},{"s":"3b","x":2731},{"s":"3b","x":3320},{"s":"3b","x":3339},{"s":"3b","x":3375},{"s":"3b","x":3504},{"s":"3b","x":3615},{"s":"3b","x":3634},
{"s":"3c","x":1626},{"s":"3c","x":1718},{"s":"3c","x":1791},{"s":"3c","x":2437},{"s":"3c","x":2511},{"s":"3c","x":2732},{"s":"3c","x":2805},{"s":"3c","x":2842},{"s":"3c","x":2879},{"s":"3c","x":2916},{"s":"3c","x":2953},{"s":"3c","x":3137},{"s":"3c","x":3156},{"s":"3c","x":3193},{"s":"3c","x":3377},{"s":"3c","x":3432},{"s":"3c","x":3616},
{"s":"3d","x":330},{"s":"3d","x":448},{"s":"3d","x":1921},{"s":"3d","x":2318},{"s":"3d","x":2491},{"s":"3d","x":2823},{"s":"3d","x":2841},{"s":"3d","x":2860},{"s":"3d","x":2933},{"s":"3d","x":3136},{"s":"3d","x":3154},{"s":"3d","x":3173},{"s":"3d","x":3302},{"s":"3d","x":3412},{"s":"3d","x":3485},{"s":"3d","x":3523},{"s":"3d","x":3560},{"s":"3d","x":3615},
{"s":"3e","x":13},{"s":"3e","x":87},{"s":"3e","x":337},{"s":"3e","x":374},{"s":"3e","x":558},{"s":"3e","x":613},{"s":"3e","x":742},{"s":"3e","x":963},{"s":"3e","x":1387},{"s":"3e","x":1405},{"s":"3e","x":1479},{"s":"3e","x":1590},{"s":"3e","x":1921},{"s":"3e","x":1977},{"s":"3e","x":2031},{"s":"3e","x":2086},{"s":"3e","x":2326},{"s":"3e","x":2437},{"s":"3e","x":2695},{"s":"3e","x":2732},{"s":"3e","x":2769},{"s":"3e","x":2879},{"s":"3e","x":2990},{"s":"3e","x":3027},{"s":"3e","x":3174},{"s":"3e","x":3229},{"s":"3e","x":3302},{"s":"3e","x":3487},{"s":"3e","x":3524},{"s":"3e","x":3616},{"s":"3e","x":3634},
{"s":"4a","x":29},{"s":"4a","x":116},{"s":"4a","x":225},{"s":"4a","x":247},{"s":"4a","x":262},{"s":"4a","x":284},{"s":"4a","x":345},{"s":"4a","x":364},{"s":"4a","x":818},{"s":"4a","x":836},{"s":"4a","x":1218},{"s":"4a","x":2273},{"s":"4a","x":3163},
{"s":"4b","x":7},{"s":"4b","x":29},{"s":"4b","x":80},{"s":"4b","x":236},{"s":"4b","x":255},{"s":"4b","x":273},{"s":"4b","x":291},{"s":"4b","x":309},{"s":"4b","x":538},{"s":"4b","x":909},{"s":"4b","x":1509},{"s":"4b","x":3563},
{"s":"4c","x":164},{"s":"4c","x":236},{"s":"4c","x":255},{"s":"4c","x":491},{"s":"4c","x":509},{"s":"4c","x":673},{"s":"4c","x":691},{"s":"4c","x":745},{"s":"4c","x":764},{"s":"4c","x":800},{"s":"4c","x":909},{"s":"4c","x":1164},{"s":"4c","x":1218},{"s":"4c","x":1691},{"s":"4c","x":1727},{"s":"4c","x":1811},{"s":"4c","x":2018},
{"s":"4d","x":55},{"s":"4d","x":73},{"s":"4d","x":164},{"s":"4d","x":211},{"s":"4d","x":291},{"s":"4d","x":382},{"s":"4d","x":491},{"s":"4d","x":509},{"s":"4d","x":727},{"s":"4d","x":818},{"s":"4d","x":909},{"s":"4d","x":1164},{"s":"4d","x":1327},{"s":"4d","x":1727},{"s":"4d","x":3200},{"s":"4d","x":3309},
{"s":"4e","x":0},{"s":"4e","x":40},{"s":"4e","x":152},{"s":"4e","x":300},{"s":"4e","x":558},{"s":"4e","x":863},{"s":"4e","x":1218},{"s":"4e","x":1574},{"s":"4e","x":1625},{"s":"4e","x":1675},{"s":"4e","x":1700},{"s":"4e","x":3528},
{"s":"4f","x":55},{"s":"4f","x":91},{"s":"4f","x":164},{"s":"4f","x":236},{"s":"4f","x":273},{"s":"4f","x":400},{"s":"4f","x":509},{"s":"4f","x":545},{"s":"4f","x":709},{"s":"4f","x":764},{"s":"4f","x":782},{"s":"4f","x":909},{"s":"4f","x":927},{"s":"4f","x":1473},{"s":"4f","x":1491},{"s":"4f","x":1709},{"s":"4f","x":2091},{"s":"4f","x":2727}
],
"met":[
{"m":1,"x":0,"y":2.5},{"m":1,"x":20,"y":2.0},{"m":1,"x":60,"y":1.6},{"m":1,"x":120,"y":1.3},{"m":1,"x":200,"y":1.1},{"m":1,"x":350,"y":0.95},{"m":1,"x":500,"y":0.87},{"m":1,"x":1000,"y":0.72},{"m":1,"x":1500,"y":0.62},{"m":1,"x":2000,"y":0.54},{"m":1,"x":2665,"y":0.45},{"m":1,"x":2665,"y":-0.35},{"m":1,"x":2800,"y":-0.42},{"m":1,"x":3000,"y":-0.5},{"m":1,"x":3150,"y":-0.62},{"m":1,"x":3250,"y":-0.78},{"m":1,"x":3320,"y":-0.95},{"m":1,"x":3370,"y":-1.2},{"m":1,"x":3400,"y":-1.6},{"m":1,"x":3420,"y":-2.3},
{"m":2,"x":0,"y":2.1},{"m":2,"x":30,"y":1.6},{"m":2,"x":100,"y":1.2},{"m":2,"x":200,"y":0.95},{"m":2,"x":400,"y":0.72},{"m":2,"x":600,"y":0.58},{"m":2,"x":755,"y":0.48},{"m":2,"x":755,"y":-0.47},{"m":2,"x":1500,"y":-0.55},{"m":2,"x":2000,"y":-0.62},{"m":2,"x":2500,"y":-0.75},{"m":2,"x":3000,"y":-0.95},{"m":2,"x":3200,"y":-1.15},{"m":2,"x":3330,"y":-1.5},{"m":2,"x":3390,"y":-1.9},{"m":2,"x":3420,"y":-2.4},
{"m":3,"x":0,"y":2.3},{"m":3,"x":30,"y":1.9},{"m":3,"x":80,"y":1.6},{"m":3,"x":150,"y":1.4},{"m":3,"x":300,"y":1.1},{"m":3,"x":520,"y":0.97},{"m":3,"x":1000,"y":0.82},{"m":3,"x":1500,"y":0.73},{"m":3,"x":2000,"y":0.66},{"m":3,"x":2690,"y":0.5},{"m":3,"x":2690,"y":-0.44},{"m":3,"x":3000,"y":-0.6},{"m":3,"x":3300,"y":-0.8},{"m":3,"x":3450,"y":-1.0},{"m":3,"x":3550,"y":-1.3},{"m":3,"x":3610,"y":-1.8},{"m":3,"x":3640,"y":-2.4},
{"m":4,"x":0,"y":2.3},{"m":4,"x":15,"y":2.0},{"m":4,"x":36,"y":1.5},{"m":4,"x":100,"y":1.15},{"m":4,"x":182,"y":1.0},{"m":4,"x":545,"y":0.8},{"m":4,"x":900,"y":0.6},{"m":4,"x":956,"y":0.54},{"m":4,"x":956,"y":-0.52},{"m":4,"x":1500,"y":-0.6},{"m":4,"x":2000,"y":-0.7},{"m":4,"x":2500,"y":-0.85},{"m":4,"x":3000,"y":-1.1},{"m":4,"x":3300,"y":-1.4},{"m":4,"x":3480,"y":-1.9},{"m":4,"x":3580,"y":-2.3},{"m":4,"x":3630,"y":-2.8}
]
},
"concat":[
{"title":{"text":"(A)"},"spacing":0,"resolve":{"scale":{"color":"independent"},"legend":{"color":"independent"}},"vconcat":[
{"width":333,"height":86,"data":{"name":"es"},"transform":[{"filter":{"field":"s","oneOf":["1a","1b","1c","1d","1e"]}},{"lookup":"s","from":{"data":{"name":"nm"},"key":"s","fields":["n"]}}],"mark":"line","encoding":{"x":{"field":"x","type":"quantitative","scale":{"domain":[0,3420],"nice":false},"axis":{"labels":false,"ticks":false,"domain":false,"title":null,"grid":true,"values":[500,1000,1500,2000,2500,3000]}},"y":{"field":"y","type":"quantitative","scale":{"domain":[-0.64,0.19],"nice":false,"zero":false},"axis":{"title":"Running Enrichment Score","values":[-0.6,-0.4,-0.2,0],"format":".1f"}},"color":{"field":"n","type":"nominal","title":null},"order":{"value":null}}},
{"width":333,"height":32,"data":{"name":"hit"},"transform":[{"filter":{"field":"s","oneOf":["1a","1b","1c","1d","1e"]}},{"lookup":"s","from":{"data":{"name":"nm"},"key":"s","fields":["n"]}}],"mark":{"type":"tick","size":5},"encoding":{"x":{"field":"x","type":"quantitative","scale":{"domain":[0,3420],"nice":false},"axis":{"labels":false,"ticks":false,"domain":false,"title":null,"grid":true,"values":[500,1000,1500,2000,2500,3000]}},"y":{"field":"s","type":"nominal","scale":{"domain":["1d","1a","1e","1b","1c"]},"axis":{"labels":false,"ticks":false,"title":null}},"color":{"field":"n","type":"nominal","legend":null}}},
{"width":333,"height":58,"data":{"name":"met"},"transform":[{"filter":{"field":"m","equal":1}}],"mark":"area","encoding":{"x":{"field":"x","type":"quantitative","scale":{"domain":[0,3420],"nice":false},"axis":{"title":"Rank in Ordered Dataset","grid":true,"ticks":false,"values":[500,1000,1500,2000,2500,3000],"format":"d","labelExpr":"datum.value % 1000 ? '' : datum.label"}},"y":{"field":"y","type":"quantitative","scale":{"domain":[-2.4,2.7],"nice":false,"zero":false},"axis":{"title":"Ranked List Metric","values":[-2,-1,0,1,2],"format":"d"}},"y2":{"datum":0},"order":{"value":null}}}
]},
{"title":{"text":"(B)"},"spacing":0,"resolve":{"scale":{"color":"independent"},"legend":{"color":"independent"}},"vconcat":[
{"width":333,"height":86,"data":{"name":"es"},"transform":[{"filter":{"field":"s","oneOf":["2a","2b","2c","2d","2e"]}},{"lookup":"s","from":{"data":{"name":"nm"},"key":"s","fields":["n"]}}],"mark":"line","encoding":{"x":{"field":"x","type":"quantitative","scale":{"domain":[0,3420],"nice":false},"axis":{"labels":false,"ticks":false,"domain":false,"title":null,"grid":true,"values":[500,1000,1500,2000,2500,3000]}},"y":{"field":"y","type":"quantitative","scale":{"domain":[-0.19,0.635],"nice":false,"zero":false},"axis":{"title":"Running Enrichment Score","values":[0,0.2,0.4,0.6],"format":".1f"}},"color":{"field":"n","type":"nominal","title":null},"order":{"value":null}}},
{"width":333,"height":32,"data":{"name":"hit"},"transform":[{"filter":{"field":"s","oneOf":["2a","2b","2c","2d","2e"]}},{"lookup":"s","from":{"data":{"name":"nm"},"key":"s","fields":["n"]}}],"mark":{"type":"tick","size":5},"encoding":{"x":{"field":"x","type":"quantitative","scale":{"domain":[0,3420],"nice":false},"axis":{"labels":false,"ticks":false,"domain":false,"title":null,"grid":true,"values":[500,1000,1500,2000,2500,3000]}},"y":{"field":"s","type":"nominal","scale":{"domain":["2a","2e","2d","2b","2c"]},"axis":{"labels":false,"ticks":false,"title":null}},"color":{"field":"n","type":"nominal","legend":null}}},
{"width":333,"height":58,"data":{"name":"met"},"transform":[{"filter":{"field":"m","equal":2}}],"mark":"area","encoding":{"x":{"field":"x","type":"quantitative","scale":{"domain":[0,3420],"nice":false},"axis":{"title":"Rank in Ordered Dataset","grid":true,"ticks":false,"values":[500,1000,1500,2000,2500,3000],"format":"d","labelExpr":"datum.value % 1000 ? '' : datum.label"}},"y":{"field":"y","type":"quantitative","scale":{"domain":[-2.65,2.4],"nice":false,"zero":false},"axis":{"title":"Ranked List Metric","values":[-2,-1,0,1,2],"format":"d"}},"y2":{"datum":0},"order":{"value":null}}}
]},
{"title":{"text":"(C)"},"spacing":0,"resolve":{"scale":{"color":"independent"},"legend":{"color":"independent"}},"vconcat":[
{"width":333,"height":86,"data":{"name":"es"},"transform":[{"filter":{"field":"s","oneOf":["1a","1b","1c","1e","1f"]}},{"lookup":"s","from":{"data":{"name":"nm"},"key":"s","fields":["n"]}}],"mark":"line","encoding":{"x":{"field":"x","type":"quantitative","scale":{"domain":[0,3420],"nice":false},"axis":{"labels":false,"ticks":false,"domain":false,"title":null,"grid":true,"values":[500,1000,1500,2000,2500,3000]}},"y":{"field":"y","type":"quantitative","scale":{"domain":[-0.64,0.19],"nice":false,"zero":false},"axis":{"title":"Running Enrichment Score","values":[-0.6,-0.4,-0.2,0],"format":".1f"}},"color":{"field":"n","type":"nominal","title":null},"order":{"value":null}}},
{"width":333,"height":32,"data":{"name":"hit"},"transform":[{"filter":{"field":"s","oneOf":["1a","1b","1c","1e","1f"]}},{"lookup":"s","from":{"data":{"name":"nm"},"key":"s","fields":["n"]}}],"mark":{"type":"tick","size":5},"encoding":{"x":{"field":"x","type":"quantitative","scale":{"domain":[0,3420],"nice":false},"axis":{"labels":false,"ticks":false,"domain":false,"title":null,"grid":true,"values":[500,1000,1500,2000,2500,3000]}},"y":{"field":"s","type":"nominal","scale":{"domain":["1a","1e","1f","1b","1c"]},"axis":{"labels":false,"ticks":false,"title":null}},"color":{"field":"n","type":"nominal","legend":null}}},
{"width":333,"height":58,"data":{"name":"met"},"transform":[{"filter":{"field":"m","equal":1}}],"mark":"area","encoding":{"x":{"field":"x","type":"quantitative","scale":{"domain":[0,3420],"nice":false},"axis":{"title":"Rank in Ordered Dataset","grid":true,"ticks":false,"values":[500,1000,1500,2000,2500,3000],"format":"d","labelExpr":"datum.value % 1000 ? '' : datum.label"}},"y":{"field":"y","type":"quantitative","scale":{"domain":[-2.4,2.7],"nice":false,"zero":false},"axis":{"title":"Ranked List Metric","values":[-2,-1,0,1,2],"format":"d"}},"y2":{"datum":0},"order":{"value":null}}}
]},
{"title":{"text":"(D)"},"spacing":0,"resolve":{"scale":{"color":"independent"},"legend":{"color":"independent"}},"vconcat":[
{"width":333,"height":86,"data":{"name":"es"},"transform":[{"filter":{"field":"s","oneOf":["1b","1c","1d","1e","1f"]}},{"lookup":"s","from":{"data":{"name":"nm"},"key":"s","fields":["n"]}}],"mark":"line","encoding":{"x":{"field":"x","type":"quantitative","scale":{"domain":[0,3420],"nice":false},"axis":{"labels":false,"ticks":false,"domain":false,"title":null,"grid":true,"values":[500,1000,1500,2000,2500,3000]}},"y":{"field":"y","type":"quantitative","scale":{"domain":[-0.64,0.19],"nice":false,"zero":false},"axis":{"title":"Running Enrichment Score","values":[-0.6,-0.4,-0.2,0],"format":".1f"}},"color":{"field":"n","type":"nominal","title":null},"order":{"value":null}}},
{"width":333,"height":32,"data":{"name":"hit"},"transform":[{"filter":{"field":"s","oneOf":["1b","1c","1d","1e","1f"]}},{"lookup":"s","from":{"data":{"name":"nm"},"key":"s","fields":["n"]}}],"mark":{"type":"tick","size":5},"encoding":{"x":{"field":"x","type":"quantitative","scale":{"domain":[0,3420],"nice":false},"axis":{"labels":false,"ticks":false,"domain":false,"title":null,"grid":true,"values":[500,1000,1500,2000,2500,3000]}},"y":{"field":"s","type":"nominal","scale":{"domain":["1e","1d","1f","1b","1c"]},"axis":{"labels":false,"ticks":false,"title":null}},"color":{"field":"n","type":"nominal","legend":null}}},
{"width":333,"height":58,"data":{"name":"met"},"transform":[{"filter":{"field":"m","equal":1}}],"mark":"area","encoding":{"x":{"field":"x","type":"quantitative","scale":{"domain":[0,3420],"nice":false},"axis":{"title":"Rank in Ordered Dataset","grid":true,"ticks":false,"values":[500,1000,1500,2000,2500,3000],"format":"d","labelExpr":"datum.value % 1000 ? '' : datum.label"}},"y":{"field":"y","type":"quantitative","scale":{"domain":[-2.4,2.7],"nice":false,"zero":false},"axis":{"title":"Ranked List Metric","values":[-2,-1,0,1,2],"format":"d"}},"y2":{"datum":0},"order":{"value":null}}}
]},
{"title":{"text":"(E)"},"spacing":0,"resolve":{"scale":{"color":"independent"},"legend":{"color":"independent"}},"vconcat":[
{"width":333,"height":86,"data":{"name":"es"},"transform":[{"filter":{"field":"s","oneOf":["1a","1b","1c","1d","1e"]}},{"lookup":"s","from":{"data":{"name":"nm"},"key":"s","fields":["n"]}}],"mark":"line","encoding":{"x":{"field":"x","type":"quantitative","scale":{"domain":[0,3420],"nice":false},"axis":{"labels":false,"ticks":false,"domain":false,"title":null,"grid":true,"values":[500,1000,1500,2000,2500,3000]}},"y":{"field":"y","type":"quantitative","scale":{"domain":[-0.62,0.21],"nice":false,"zero":false},"axis":{"title":"Running Enrichment Score","values":[-0.6,-0.4,-0.2,0],"format":".1f"}},"color":{"field":"n","type":"nominal","title":null},"order":{"value":null}}},
{"width":333,"height":32,"data":{"name":"hit"},"transform":[{"filter":{"field":"s","oneOf":["1a","1b","1c","1d","1e"]}},{"lookup":"s","from":{"data":{"name":"nm"},"key":"s","fields":["n"]}}],"mark":{"type":"tick","size":5},"encoding":{"x":{"field":"x","type":"quantitative","scale":{"domain":[0,3420],"nice":false},"axis":{"labels":false,"ticks":false,"domain":false,"title":null,"grid":true,"values":[500,1000,1500,2000,2500,3000]}},"y":{"field":"s","type":"nominal","scale":{"domain":["1d","1a","1e","1b","1c"]},"axis":{"labels":false,"ticks":false,"title":null}},"color":{"field":"n","type":"nominal","legend":null}}},
{"width":333,"height":58,"data":{"name":"met"},"transform":[{"filter":{"field":"m","equal":1}}],"mark":"area","encoding":{"x":{"field":"x","type":"quantitative","scale":{"domain":[0,3420],"nice":false},"axis":{"title":"Rank in Ordered Dataset","grid":true,"ticks":false,"values":[500,1000,1500,2000,2500,3000],"format":"d","labelExpr":"datum.value % 1000 ? '' : datum.label"}},"y":{"field":"y","type":"quantitative","scale":{"domain":[-2.4,2.7],"nice":false,"zero":false},"axis":{"title":"Ranked List Metric","values":[-2,-1,0,1,2],"format":"d"}},"y2":{"datum":0},"order":{"value":null}}}
]},
{"title":{"text":"(F)"},"spacing":0,"resolve":{"scale":{"color":"independent"},"legend":{"color":"independent"}},"vconcat":[
{"width":333,"height":86,"data":{"name":"es"},"transform":[{"filter":{"field":"s","oneOf":["1a","1b","1c","1g","1e"]}},{"lookup":"s","from":{"data":{"name":"nm"},"key":"s","fields":["n"]}}],"mark":"line","encoding":{"x":{"field":"x","type":"quantitative","scale":{"domain":[0,3420],"nice":false},"axis":{"labels":false,"ticks":false,"domain":false,"title":null,"grid":true,"values":[500,1000,1500,2000,2500,3000]}},"y":{"field":"y","type":"quantitative","scale":{"domain":[-0.62,0.21],"nice":false,"zero":false},"axis":{"title":"Running Enrichment Score","values":[-0.6,-0.4,-0.2,0],"format":".1f"}},"color":{"field":"n","type":"nominal","title":null},"order":{"value":null}}},
{"width":333,"height":32,"data":{"name":"hit"},"transform":[{"filter":{"field":"s","oneOf":["1a","1b","1c","1g","1e"]}},{"lookup":"s","from":{"data":{"name":"nm"},"key":"s","fields":["n"]}}],"mark":{"type":"tick","size":5},"encoding":{"x":{"field":"x","type":"quantitative","scale":{"domain":[0,3420],"nice":false},"axis":{"labels":false,"ticks":false,"domain":false,"title":null,"grid":true,"values":[500,1000,1500,2000,2500,3000]}},"y":{"field":"s","type":"nominal","scale":{"domain":["1g","1a","1e","1b","1c"]},"axis":{"labels":false,"ticks":false,"title":null}},"color":{"field":"n","type":"nominal","legend":null}}},
{"width":333,"height":58,"data":{"name":"met"},"transform":[{"filter":{"field":"m","equal":1}}],"mark":"area","encoding":{"x":{"field":"x","type":"quantitative","scale":{"domain":[0,3420],"nice":false},"axis":{"title":"Rank in Ordered Dataset","grid":true,"ticks":false,"values":[500,1000,1500,2000,2500,3000],"format":"d","labelExpr":"datum.value % 1000 ? '' : datum.label"}},"y":{"field":"y","type":"quantitative","scale":{"domain":[-2.4,2.7],"nice":false,"zero":false},"axis":{"title":"Ranked List Metric","values":[-2,-1,0,1,2],"format":"d"}},"y2":{"datum":0},"order":{"value":null}}}
]},
{"title":{"text":"(G)"},"spacing":0,"resolve":{"scale":{"color":"independent"},"legend":{"color":"independent"}},"vconcat":[
{"width":333,"height":86,"data":{"name":"es"},"transform":[{"filter":{"field":"s","oneOf":["2b","2c","2d","2e","2f"]}},{"lookup":"s","from":{"data":{"name":"nm"},"key":"s","fields":["n"]}}],"mark":"line","encoding":{"x":{"field":"x","type":"quantitative","scale":{"domain":[0,3420],"nice":false},"axis":{"labels":false,"ticks":false,"domain":false,"title":null,"grid":true,"values":[500,1000,1500,2000,2500,3000]}},"y":{"field":"y","type":"quantitative","scale":{"domain":[-0.18,0.66],"nice":false,"zero":false},"axis":{"title":"Running Enrichment Score","values":[0,0.2,0.4,0.6],"format":".1f"}},"color":{"field":"n","type":"nominal","title":null},"order":{"value":null}}},
{"width":333,"height":32,"data":{"name":"hit"},"transform":[{"filter":{"field":"s","oneOf":["2b","2c","2d","2e","2f"]}},{"lookup":"s","from":{"data":{"name":"nm"},"key":"s","fields":["n"]}}],"mark":{"type":"tick","size":5},"encoding":{"x":{"field":"x","type":"quantitative","scale":{"domain":[0,3420],"nice":false},"axis":{"labels":false,"ticks":false,"domain":false,"title":null,"grid":true,"values":[500,1000,1500,2000,2500,3000]}},"y":{"field":"s","type":"nominal","scale":{"domain":["2f","2d","2b","2e","2c"]},"axis":{"labels":false,"ticks":false,"title":null}},"color":{"field":"n","type":"nominal","legend":null}}},
{"width":333,"height":58,"data":{"name":"met"},"transform":[{"filter":{"field":"m","equal":2}}],"mark":"area","encoding":{"x":{"field":"x","type":"quantitative","scale":{"domain":[0,3420],"nice":false},"axis":{"title":"Rank in Ordered Dataset","grid":true,"ticks":false,"values":[500,1000,1500,2000,2500,3000],"format":"d","labelExpr":"datum.value % 1000 ? '' : datum.label"}},"y":{"field":"y","type":"quantitative","scale":{"domain":[-2.65,2.4],"nice":false,"zero":false},"axis":{"title":"Ranked List Metric","values":[-2,-1,0,1,2],"format":"d"}},"y2":{"datum":0},"order":{"value":null}}}
]},
{"title":{"text":"(H)"},"spacing":0,"resolve":{"scale":{"color":"independent"},"legend":{"color":"independent"}},"vconcat":[
{"width":333,"height":86,"data":{"name":"es"},"transform":[{"filter":{"field":"s","oneOf":["3a","3b","3c","3d","3e"]}},{"lookup":"s","from":{"data":{"name":"nm"},"key":"s","fields":["n"]}}],"mark":"line","encoding":{"x":{"field":"x","type":"quantitative","scale":{"domain":[0,3640],"nice":false},"axis":{"labels":false,"ticks":false,"domain":false,"title":null,"grid":true,"values":[500,1000,1500,2000,2500,3000,3500]}},"y":{"field":"y","type":"quantitative","scale":{"domain":[-0.68,0.15],"nice":false,"zero":false},"axis":{"title":"Running Enrichment Score","values":[-0.5,-0.25,0],"format":".2f"}},"color":{"field":"n","type":"nominal","title":null},"order":{"value":null}}},
{"width":333,"height":32,"data":{"name":"hit"},"transform":[{"filter":{"field":"s","oneOf":["3a","3b","3c","3d","3e"]}},{"lookup":"s","from":{"data":{"name":"nm"},"key":"s","fields":["n"]}}],"mark":{"type":"tick","size":5},"encoding":{"x":{"field":"x","type":"quantitative","scale":{"domain":[0,3640],"nice":false},"axis":{"labels":false,"ticks":false,"domain":false,"title":null,"grid":true,"values":[500,1000,1500,2000,2500,3000,3500]}},"y":{"field":"s","type":"nominal","scale":{"domain":["3e","3d","3a","3c","3b"]},"axis":{"labels":false,"ticks":false,"title":null}},"color":{"field":"n","type":"nominal","legend":null}}},
{"width":333,"height":58,"data":{"name":"met"},"transform":[{"filter":{"field":"m","equal":3}}],"mark":"area","encoding":{"x":{"field":"x","type":"quantitative","scale":{"domain":[0,3640],"nice":false},"axis":{"title":"Rank in Ordered Dataset","grid":true,"ticks":false,"values":[500,1000,1500,2000,2500,3000,3500],"format":"d","labelExpr":"datum.value % 1000 ? '' : datum.label"}},"y":{"field":"y","type":"quantitative","scale":{"domain":[-2.5,2.9],"nice":false,"zero":false},"axis":{"title":"Ranked List Metric","values":[-2,-1,0,1,2],"format":"d"}},"y2":{"datum":0},"order":{"value":null}}}
]},
{"title":{"text":"(I)"},"spacing":0,"resolve":{"scale":{"color":"independent"},"legend":{"color":"independent"}},"vconcat":[
{"width":333,"height":86,"data":{"name":"es"},"transform":[{"filter":{"field":"s","oneOf":["3a","3b","3c","3d","3e"]}},{"lookup":"s","from":{"data":{"name":"nm"},"key":"s","fields":["n"]}}],"mark":"line","encoding":{"x":{"field":"x","type":"quantitative","scale":{"domain":[0,3640],"nice":false},"axis":{"labels":false,"ticks":false,"domain":false,"title":null,"grid":true,"values":[500,1000,1500,2000,2500,3000,3500]}},"y":{"field":"y","type":"quantitative","scale":{"domain":[-0.68,0.15],"nice":false,"zero":false},"axis":{"title":"Running Enrichment Score","values":[-0.5,-0.25,0],"format":".2f"}},"color":{"field":"n","type":"nominal","title":null},"order":{"value":null}}},
{"width":333,"height":32,"data":{"name":"hit"},"transform":[{"filter":{"field":"s","oneOf":["3a","3b","3c","3d","3e"]}},{"lookup":"s","from":{"data":{"name":"nm"},"key":"s","fields":["n"]}}],"mark":{"type":"tick","size":5},"encoding":{"x":{"field":"x","type":"quantitative","scale":{"domain":[0,3640],"nice":false},"axis":{"labels":false,"ticks":false,"domain":false,"title":null,"grid":true,"values":[500,1000,1500,2000,2500,3000,3500]}},"y":{"field":"s","type":"nominal","scale":{"domain":["3d","3e","3a","3c","3b"]},"axis":{"labels":false,"ticks":false,"title":null}},"color":{"field":"n","type":"nominal","legend":null}}},
{"width":333,"height":58,"data":{"name":"met"},"transform":[{"filter":{"field":"m","equal":3}}],"mark":"area","encoding":{"x":{"field":"x","type":"quantitative","scale":{"domain":[0,3640],"nice":false},"axis":{"title":"Rank in Ordered Dataset","grid":true,"ticks":false,"values":[500,1000,1500,2000,2500,3000,3500],"format":"d","labelExpr":"datum.value % 1000 ? '' : datum.label"}},"y":{"field":"y","type":"quantitative","scale":{"domain":[-2.5,2.9],"nice":false,"zero":false},"axis":{"title":"Ranked List Metric","values":[-2,-1,0,1,2],"format":"d"}},"y2":{"datum":0},"order":{"value":null}}}
]},
{"title":{"text":"(J)"},"spacing":0,"resolve":{"scale":{"color":"independent"},"legend":{"color":"independent"}},"vconcat":[
{"width":333,"height":86,"data":{"name":"es"},"transform":[{"filter":{"field":"s","oneOf":["4a","4b","4c","4d","4e"]}},{"lookup":"s","from":{"data":{"name":"nm"},"key":"s","fields":["n"]}}],"mark":"line","encoding":{"x":{"field":"x","type":"quantitative","scale":{"domain":[0,3630],"nice":false},"axis":{"labels":false,"ticks":false,"domain":false,"title":null,"grid":true,"values":[500,1000,1500,2000,2500,3000,3500]}},"y":{"field":"y","type":"quantitative","scale":{"domain":[-0.14,0.69],"nice":false,"zero":false},"axis":{"title":"Running Enrichment Score","values":[0,0.25,0.5],"format":".2f"}},"color":{"field":"n","type":"nominal","title":null},"order":{"value":null}}},
{"width":333,"height":32,"data":{"name":"hit"},"transform":[{"filter":{"field":"s","oneOf":["4a","4b","4c","4d","4e"]}},{"lookup":"s","from":{"data":{"name":"nm"},"key":"s","fields":["n"]}}],"mark":{"type":"tick","size":5},"encoding":{"x":{"field":"x","type":"quantitative","scale":{"domain":[0,3630],"nice":false},"axis":{"labels":false,"ticks":false,"domain":false,"title":null,"grid":true,"values":[500,1000,1500,2000,2500,3000,3500]}},"y":{"field":"s","type":"nominal","scale":{"domain":["4d","4a","4e","4c","4b"]},"axis":{"labels":false,"ticks":false,"title":null}},"color":{"field":"n","type":"nominal","legend":null}}},
{"width":333,"height":58,"data":{"name":"met"},"transform":[{"filter":{"field":"m","equal":4}}],"mark":"area","encoding":{"x":{"field":"x","type":"quantitative","scale":{"domain":[0,3630],"nice":false},"axis":{"title":"Rank in Ordered Dataset","grid":true,"ticks":false,"values":[500,1000,1500,2000,2500,3000,3500],"format":"d","labelExpr":"datum.value % 1000 ? '' : datum.label"}},"y":{"field":"y","type":"quantitative","scale":{"domain":[-2.7,2.8],"nice":false,"zero":false},"axis":{"title":"Ranked List Metric","values":[-2,-1,0,1,2],"format":"d"}},"y2":{"datum":0},"order":{"value":null}}}
]},
{"title":{"text":"(K)"},"spacing":0,"resolve":{"scale":{"color":"independent"},"legend":{"color":"independent"}},"vconcat":[
{"width":333,"height":86,"data":{"name":"es"},"transform":[{"filter":{"field":"s","oneOf":["4a","4b","4c","4d","4f"]}},{"lookup":"s","from":{"data":{"name":"nm"},"key":"s","fields":["n"]}}],"mark":"line","encoding":{"x":{"field":"x","type":"quantitative","scale":{"domain":[0,3630],"nice":false},"axis":{"labels":false,"ticks":false,"domain":false,"title":null,"grid":true,"values":[500,1000,1500,2000,2500,3000,3500]}},"y":{"field":"y","type":"quantitative","scale":{"domain":[-0.12,0.69],"nice":false,"zero":false},"axis":{"title":"Running Enrichment Score","values":[0,0.2,0.4,0.6],"format":".1f"}},"color":{"field":"n","type":"nominal","title":null},"order":{"value":null}}},
{"width":333,"height":32,"data":{"name":"hit"},"transform":[{"filter":{"field":"s","oneOf":["4a","4b","4c","4d","4f"]}},{"lookup":"s","from":{"data":{"name":"nm"},"key":"s","fields":["n"]}}],"mark":{"type":"tick","size":5},"encoding":{"x":{"field":"x","type":"quantitative","scale":{"domain":[0,3630],"nice":false},"axis":{"labels":false,"ticks":false,"domain":false,"title":null,"grid":true,"values":[500,1000,1500,2000,2500,3000,3500]}},"y":{"field":"s","type":"nominal","scale":{"domain":["4f","4d","4a","4c","4b"]},"axis":{"labels":false,"ticks":false,"title":null}},"color":{"field":"n","type":"nominal","legend":null}}},
{"width":333,"height":58,"data":{"name":"met"},"transform":[{"filter":{"field":"m","equal":4}}],"mark":"area","encoding":{"x":{"field":"x","type":"quantitative","scale":{"domain":[0,3630],"nice":false},"axis":{"title":"Rank in Ordered Dataset","grid":true,"ticks":false,"values":[500,1000,1500,2000,2500,3000,3500],"format":"d","labelExpr":"datum.value % 1000 ? '' : datum.label"}},"y":{"field":"y","type":"quantitative","scale":{"domain":[-2.7,2.8],"nice":false,"zero":false},"axis":{"title":"Ranked List Metric","values":[-2,-1,0,1,2],"format":"d"}},"y2":{"datum":0},"order":{"value":null}}}
]}
]
}
